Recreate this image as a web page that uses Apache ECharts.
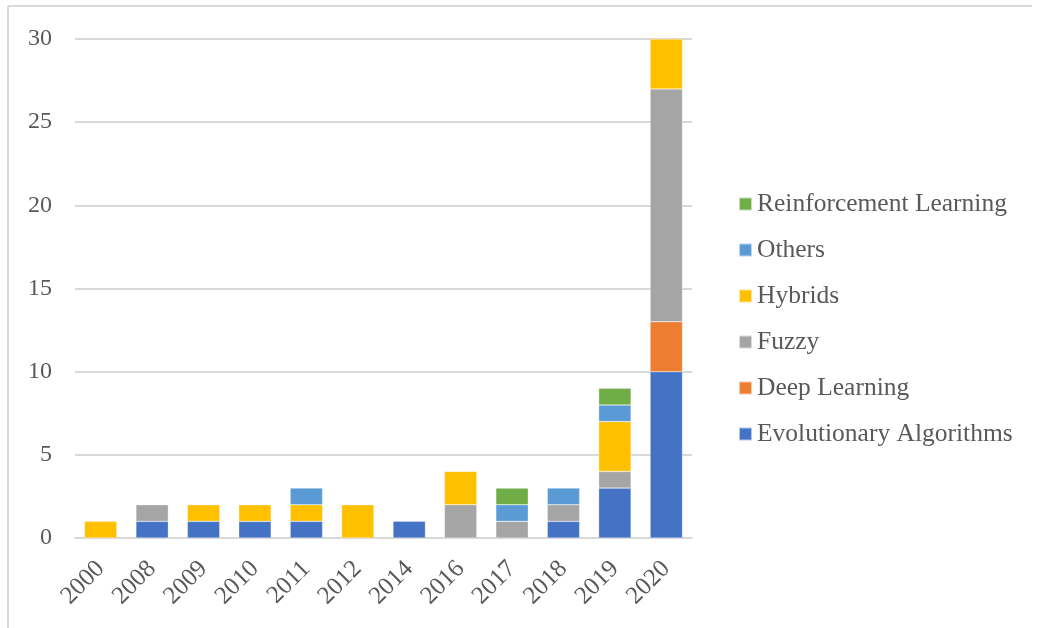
<!DOCTYPE html>
<html>
<head>
<meta charset="utf-8">
<script src="https://cdn.jsdelivr.net/npm/echarts@6/dist/echarts.min.js"></script>
<style>html,body{margin:0;padding:0;background:#fff;}#c{width:1038px;height:628px;}</style>
</head>
<body>
<div id="c"></div>
<script>
const years = ['2000','2008','2009','2010','2011','2012','2014','2016','2017','2018','2019','2020'];
const evolutionary = [0,1,1,1,1,0,1,0,0,1,3,10];
const deepLearning = [0,0,0,0,0,0,0,0,0,0,0,3];
const fuzzy        = [0,1,0,0,0,0,0,2,1,1,1,14];
const hybrids      = [1,0,1,1,1,2,0,2,0,0,3,3];
const others       = [0,0,0,0,1,0,0,0,1,1,1,0];
const reinforcement= [0,0,0,0,0,0,0,0,1,0,1,0];
const yTicks = {min:0, max:30, interval:5};

const font = 'Liberation Serif, Times New Roman, serif';
const txt = '#595959';
function s(name, data, color){
  return {name, type:'bar', stack:'total', data: data.map(v => v === 0 ? null : v), barWidth:'63%',
    itemStyle:{color, borderColor:'rgba(255,255,255,0.6)', borderWidth:0.5}};
}
const chart = echarts.init(document.getElementById('c'), null, {renderer:'canvas'});
chart.setOption({
  animation:false,
  backgroundColor:'#fff',
  grid:{left:75, right:346, top:39, bottom:90},
  xAxis:{type:'category', data:years,
    axisLine:{lineStyle:{color:'#d9d9d9', width:2}},
    axisTick:{show:false},
    axisLabel:{rotate:45, margin:27, color:txt, fontFamily:font, fontSize:25}},
  yAxis:{type:'value', min:yTicks.min, max:yTicks.max, interval:yTicks.interval,
    axisLine:{show:false}, axisTick:{show:false},
    splitLine:{lineStyle:{color:'#d9d9d9', width:2}},
    axisLabel:{margin:23, color:txt, fontFamily:font, fontSize:24}},
  legend:{orient:'vertical', left:738, top:191, padding:0, itemWidth:13, itemHeight:13, itemGap:20,
    icon:'rect',
    data:['Reinforcement Learning','Others','Hybrids','Fuzzy','Deep Learning','Evolutionary Algorithms'],
    textStyle:{color:txt, fontFamily:font, fontSize:25.5, lineHeight:26}},
  graphic:[
    {type:'line', shape:{x1:8, y1:6, x2:8, y2:628}, style:{stroke:'#d9d9d9', lineWidth:2}, silent:true},
    {type:'line', shape:{x1:8, y1:6, x2:1032, y2:6}, style:{stroke:'#d9d9d9', lineWidth:2}, silent:true}
  ],
  series:[
    s('Evolutionary Algorithms', evolutionary, '#4472C4'),
    s('Deep Learning', deepLearning, '#ED7D31'),
    s('Fuzzy', fuzzy, '#A5A5A5'),
    s('Hybrids', hybrids, '#FFC000'),
    s('Others', others, '#5B9BD5'),
    s('Reinforcement Learning', reinforcement, '#70AD47')
  ]
});
</script>
</body>
</html>
